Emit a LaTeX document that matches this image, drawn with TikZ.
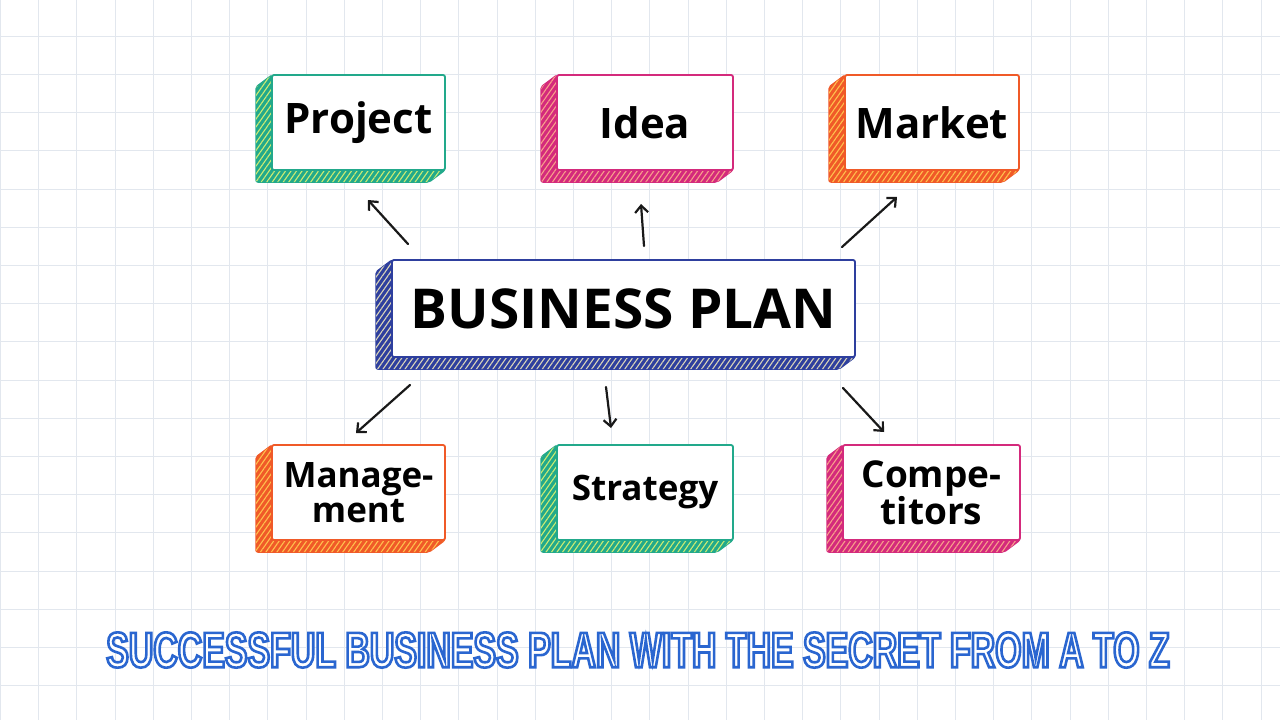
\documentclass[tikz,border=0pt]{standalone}
\usepackage{fontspec}
\setmainfont{Open Sans}
\newfontfamily\titlefont{Liberation Sans}[FakeStretch=0.678]
\usetikzlibrary{calc,patterns.meta,arrows.meta,positioning}
\definecolor{verde}{HTML}{22A98B}
\definecolor{verdeclaro}{HTML}{CDEB72}
\definecolor{rosa}{HTML}{D42A7C}
\definecolor{rosaclaro}{HTML}{F8A08A}
\definecolor{laranja}{HTML}{F05A28}
\definecolor{laranjaclaro}{HTML}{FFC04D}
\definecolor{azul}{HTML}{2E3F9E}
\definecolor{azulclaro}{HTML}{D9D4B8}
\definecolor{grade}{HTML}{E2E7EE}
\newcommand{\caixa}[8]{% Cria uma caixa 3D: nome, centro, largura, altura, cor, hachura, texto, corpo
\coordinate (#1c) at #2;
\path[fill=#5, draw=#5, line width=1.5pt, rounded corners=2pt,
  postaction={pattern={Lines[angle=55,distance=4.5pt,line width=1.1pt]}, pattern color=#6}]
  ($(#1c)+({-#3/2},{-#4/2})$) -- ++(-16,12) -- ++(0,#4) -- ++(#3,0) -- ++(16,-12) -- cycle;
\node[planbox, draw=#5, minimum width=#3, minimum height=#4, font=\bfseries\fontsize{#8}{#8}\selectfont] (#1) at (#1c) {#7};
}
\tikzset{
  planbox/.style={fill=white, line width=1.8pt, rounded corners=2pt, inner sep=0pt, align=center},
  seta/.style={-{Straight Barb[length=7pt,width=13pt]}, line width=2.2pt, draw=black!90, line cap=round},
}
\begin{document}
\begin{tikzpicture}[x=1pt,y=-1pt]
\useasboundingbox[fill=white] (0,0) rectangle (1280,720);
% grade de fundo
\foreach \i in {0,...,33} \draw[grade, line width=1pt] ({38.2*\i+0.5},0) -- ++(0,720);
\foreach \j in {0,...,18} \draw[grade, line width=1pt] (0,{36.2+38.2*\j}) -- ++(1280,0);
%
\caixa{plan}{(623.5,308.5)}{463}{97}{azul}{azulclaro}{BUSINESS PLAN}{55}
\caixa{project}{(358.5,122.5)}{173}{95}{verde}{verdeclaro}{Project}{42}
\caixa{idea}{(645,122.5)}{176}{95}{rosa}{rosaclaro}{Idea}{42}
\caixa{market}{(932,122.5)}{174}{95}{laranja}{laranjaclaro}{Market}{42}
\caixa{management}{(358.5,492.5)}{173}{95}{laranja}{laranjaclaro}{Manage-\\ment}{35}
\caixa{strategy}{(645,492.5)}{176}{95}{verde}{verdeclaro}{Strategy}{35}
\caixa{competitors}{(931.5,492.5)}{177}{95}{rosa}{rosaclaro}{Compe-\\titors}{37}
%
\coordinate (t1) at (408,244); \coordinate (h1) at (368,200);
\coordinate (t2) at (644,246); \coordinate (h2) at (641,204);
\coordinate (t3) at (842,247); \coordinate (h3) at (897,197);
\coordinate (t4) at (410,385); \coordinate (h4) at (356,433);
\coordinate (t5) at (606,387); \coordinate (h5) at (611,428);
\coordinate (t6) at (843,388); \coordinate (h6) at (884,432);
\foreach \k in {1,...,6} \draw[seta] (t\k) -- (h\k);
%
\node[inner sep=0pt, font=\titlefont\bfseries\fontsize{50}{50}\selectfont] (titulo) at (638,650)
  {\color{white}\special{pdf:code 2 Tr 2.6 w 0.165 0.4 0.816 RG}SUCCESSFUL BUSINESS PLAN WITH THE SECRET FROM A TO Z\special{pdf:code 0 Tr}};
\end{tikzpicture}
\end{document}
